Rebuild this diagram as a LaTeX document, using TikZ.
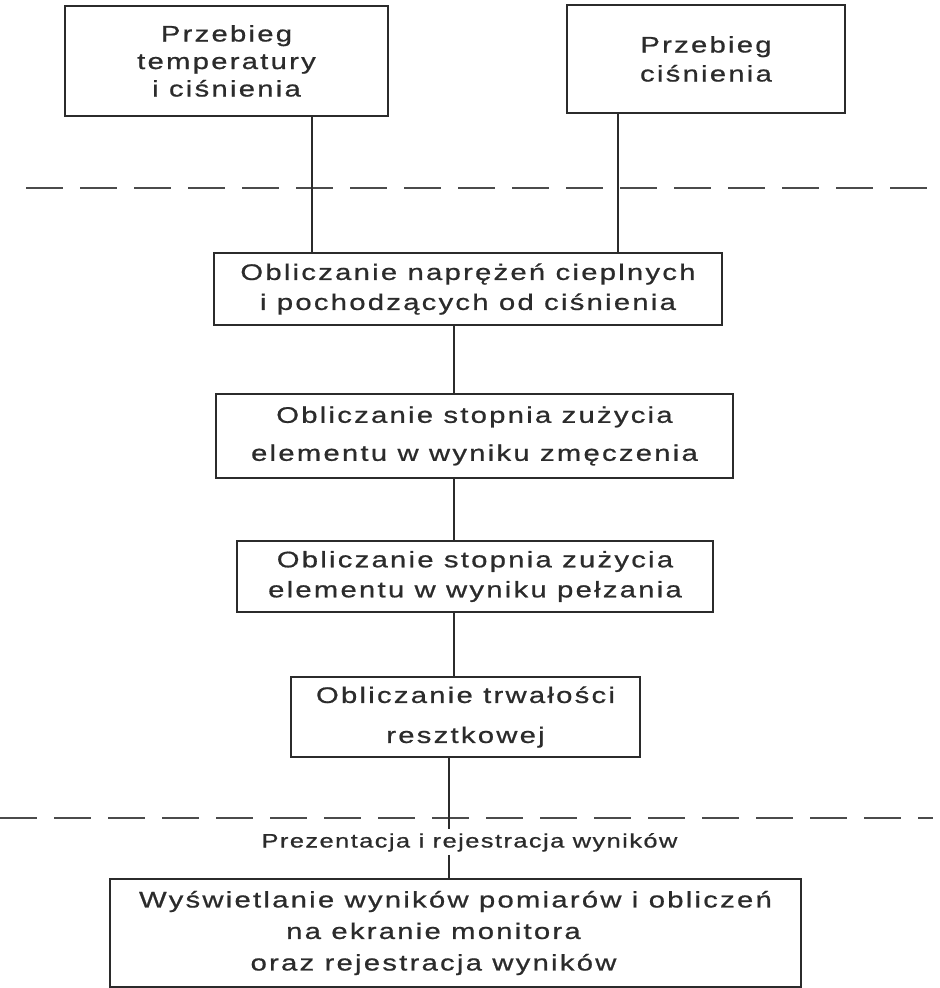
\documentclass[tikz,border=0pt]{standalone}
\usepackage{fontspec}
\setmainfont{Liberation Sans}[FakeStretch=1.3,LetterSpace=10,FakeBold=0.8]
\usepackage{tikz}

\definecolor{ink}{HTML}{2B2B2B}

\tikzset{
  box/.style={draw=ink, line width=1pt, text=ink, align=center, inner sep=0pt},
  link/.style={draw=ink, line width=0.8pt},
  divider/.style={draw=ink!85, line width=0.7pt, dash pattern=on 18.5pt off 8.5pt},
}

\begin{document}
\begin{tikzpicture}[x=0.5pt, y=-0.5pt]
    \useasboundingbox (0,0) rectangle (939,988);

    % input boxes
    \node[box, minimum width=161.5pt, minimum height=55pt,
          font={\fontsize{11.25}{13.75}\selectfont}] (tempcis) at (226.5,61)
          {Przebieg\\temperatury\\i ciśnienia};
    \node[box, minimum width=139pt, minimum height=54pt,
          font={\fontsize{11.25}{14.5}\selectfont}] (cis) at (706,59)
          {Przebieg\\ciśnienia};

    % separator
    \draw[divider] (26,188) -- (939,188);

    % calculation chain
    \node[box, minimum width=254pt, minimum height=36pt,
          font={\fontsize{11.25}{15}\selectfont}] (naprez) at (468,289)
          {Obliczanie naprężeń cieplnych\\i pochodzących od ciśnienia};
    \node[box, minimum width=258.5pt, minimum height=42pt,
          font={\fontsize{11.25}{19}\selectfont}] (zmecz) at (474.5,436)
          {Obliczanie stopnia zużycia\\elementu w wyniku zmęczenia};
    \node[box, minimum width=238pt, minimum height=35.5pt,
          font={\fontsize{11.25}{15}\selectfont}] (pelz) at (475,576.5)
          {Obliczanie stopnia zużycia\\elementu w wyniku pełzania};
    \node[box, minimum width=174.5pt, minimum height=40pt,
          font={\fontsize{11.25}{20}\selectfont}] (trwal) at (465.5,717)
          {Obliczanie trwałości\\resztkowej};

    % separator
    \draw[divider] (0,818) -- (933,818);

    % output part
    \node[text=ink, inner xsep=0pt, inner ysep=1.5pt, text height=7.5pt, text depth=2pt,
          font={\fontsize{9.75}{12}\selectfont\addfontfeature{LetterSpace=7.5}}] (prez) at (469.5,842)
          {Prezentacja i rejestracja wyników};
    \node[box, minimum width=345.5pt, minimum height=54pt,
          font={\fontsize{11.25}{15.75}\selectfont}] (ekran) at (455.5,933)
          {Wyświetlanie wyników pomiarów i obliczeń\\na ekranie monitora\hspace*{22pt}\mbox{}\\oraz rejestracja wyników\hspace*{22pt}\mbox{}};

    % connectors
    \coordinate (colA) at (312,0);
    \coordinate (colB) at (618,0);
    \coordinate (colM) at (454,0);
    \coordinate (colF) at (449,0);
    \draw[link] (tempcis.south -| colA) -- (naprez.north -| colA);
    \draw[link] (cis.south -| colB) -- (naprez.north -| colB);
    \draw[link] (naprez.south -| colM) -- (zmecz.north -| colM);
    \draw[link] (zmecz.south -| colM) -- (pelz.north -| colM);
    \draw[link] (pelz.south -| colM) -- (trwal.north -| colM);
    \draw[link] (trwal.south -| colF) -- (prez.north -| colF);
    \draw[link] (prez.south -| colF) -- (ekran.north -| colF);
\end{tikzpicture}
\end{document}
